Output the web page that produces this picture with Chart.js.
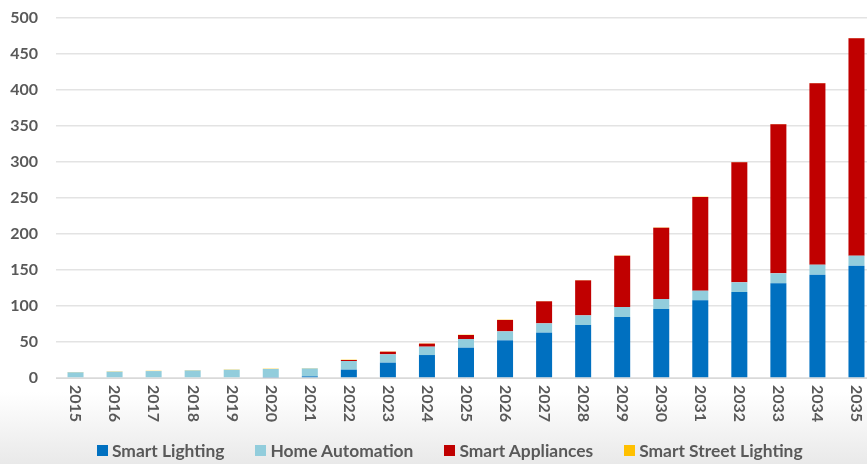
<!DOCTYPE html>
<html>
<head>
<meta charset="utf-8">
<script src="https://cdn.jsdelivr.net/npm/chart.js@4/dist/chart.umd.min.js"></script>
<style>
  html, body { margin: 0; padding: 0; overflow: hidden; }
  body {
    width: 867px; height: 464px;
    background: linear-gradient(to bottom, #ffffff 0px, #ffffff 392px, #e9e9e9 464px);
    font-family: Lato, sans-serif;
  }
  #wrap { position: relative; width: 876px; height: 464px; }
  #legend {
    position: absolute; left: 97px; top: 440px;
    display: flex; align-items: center;
    font-weight: bold; font-size: 17.4px; color: #595959;
  }
  .item { display: flex; align-items: center; margin-right: 31px; }
  .box { width: 11px; height: 11px; margin-right: 4px; }
</style>
</head>
<body>
<div id="wrap"><canvas id="market"></canvas></div>
<div id="legend"></div>
<script>
const years = ['2015', '2016', '2017', '2018', '2019', '2020', '2021', '2022', '2023', '2024', '2025',
  '2026', '2027', '2028', '2029', '2030', '2031', '2032', '2033', '2034', '2035'];

const smartLighting = [0, 0, 0, 0, 0, 1.4, 2.3, 11.6, 21.3, 31.9, 42.1,
  52.3, 63, 73.6, 84.7, 95.8, 107.9, 119.4, 131.5, 143.5, 156];
const homeAutomation = [7.9, 8.8, 9.6, 10.5, 11.4, 11.1, 11.0, 12.0, 11.6, 11.6, 12.1,
  12.5, 12.9, 13.4, 13.9, 13.9, 13.4, 13.5, 13.9, 13.9, 13.9];
const smartAppliances = [0, 0, 0, 0, 0, 0, 0, 1.4, 3.6, 4.2, 5.5,
  15.8, 30.6, 48.6, 71.3, 99.1, 130.1, 166.6, 206.9, 251.9, 301.9];
const smartStreetLighting = [0.4, 0.4, 0.4, 0.4, 0.4, 0.4, 0.4, 0.4, 0.4, 0.4, 0.4,
  0.4, 0.4, 0.4, 0.4, 0.4, 0.4, 0.4, 0.4, 0.4, 0.4];

const yTicks = [0, 50, 100, 150, 200, 250, 300, 350, 400, 450, 500];

const textGrey = '#595959';
const tickFont = { family: 'Lato', size: 16, weight: 'bold' };

// year labels read top-to-bottom, so draw them ourselves at the scale's tick positions
const verticalYears = {
  id: 'verticalYears',
  afterDraw(chart) {
    const { ctx, scales } = chart;
    const x = scales.x;
    ctx.save();
    ctx.font = 'bold 16px Lato';
    ctx.fillStyle = textGrey;
    ctx.textAlign = 'left';
    ctx.textBaseline = 'middle';
    years.forEach((yr, i) => {
      ctx.save();
      ctx.translate(x.getPixelForTick(i), x.top + 7);
      ctx.rotate(Math.PI / 2);
      ctx.fillText(yr, 0, 0);
      ctx.restore();
    });
    ctx.restore();
  }
};

// legend laid out as plain html under the canvas
const htmlLegend = {
  id: 'htmlLegend',
  afterUpdate(chart) {
    const box = document.getElementById('legend');
    while (box.firstChild) box.firstChild.remove();
    chart.data.datasets.forEach(d => {
      const item = document.createElement('div');
      item.className = 'item';
      const sw = document.createElement('span');
      sw.className = 'box';
      sw.style.backgroundColor = d.backgroundColor;
      const txt = document.createElement('span');
      txt.textContent = d.label;
      item.appendChild(sw);
      item.appendChild(txt);
      box.appendChild(item);
    });
  }
};

const ds = (label, data, color) => ({
  label: label,
  data: data,
  backgroundColor: color,
  borderWidth: 0,
  categoryPercentage: 1,
  barPercentage: 0.41
});

new Chart(document.getElementById('market'), {
  type: 'bar',
  data: {
    labels: years,
    datasets: [
      ds('Smart Lighting', smartLighting, '#0070C0'),
      ds('Home Automation', homeAutomation, '#92CDDC'),
      ds('Smart Appliances', smartAppliances, '#C00000'),
      ds('Smart Street Lighting', smartStreetLighting, '#FFC000')
    ]
  },
  options: {
    responsive: true,
    maintainAspectRatio: false,
    animation: false,
    layout: { padding: { top: 18, left: 3, right: 0, bottom: 0 } },
    plugins: {
      tooltip: { enabled: false },
      legend: { display: false }
    },
    scales: {
      x: {
        stacked: true,
        grid: { display: false },
        border: { color: '#d9d9d9', width: 1 },
        ticks: { display: false },
        afterFit(scale) {
          scale.height = 86;
          scale.paddingLeft = 0;
          scale.paddingRight = 0;
        }
      },
      y: {
        stacked: true,
        min: 0,
        max: 500,
        afterBuildTicks(scale) {
          scale.ticks = yTicks.map(v => ({ value: v }));
        },
        afterFit(scale) {
          scale.width = 53;
          scale.paddingTop = 0;
          scale.paddingBottom = 0;
        },
        grid: { color: '#e3e3e3', lineWidth: 1.5, drawTicks: false },
        border: { display: false },
        ticks: {
          color: textGrey,
          font: tickFont,
          padding: 18
        }
      }
    }
  },
  plugins: [verticalYears, htmlLegend]
});
</script>
</body>
</html>
